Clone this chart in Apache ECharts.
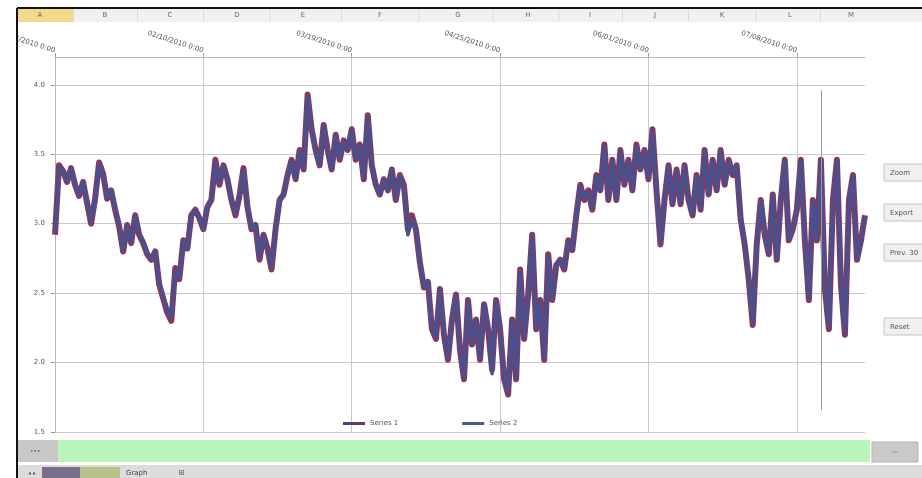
<!DOCTYPE html>
<html>
<head>
<meta charset="utf-8">
<title>Series chart</title>
<script src="https://cdn.jsdelivr.net/npm/echarts@6/dist/echarts.min.js"></script>
<style>
  html, body { margin: 0; padding: 0; background: #ffffff; }
  #chart { width: 922px; height: 478px; }
</style>
</head>
<body>
<div id="chart"></div>
<script>
// Daily readings, one value per day
const series1 = [
  2.92, 3.42, 3.38, 3.30, 3.40, 3.28, 3.20, 3.30, 3.15, 3.00,
  3.18, 3.44, 3.36, 3.18, 3.24, 3.10, 2.98, 2.80, 2.99, 2.86,
  3.06, 2.92, 2.86, 2.78, 2.74, 2.80, 2.56, 2.46, 2.36, 2.30,
  2.68, 2.60, 2.88, 2.82, 3.06, 3.10, 3.04, 2.96, 3.12, 3.17,
  3.46, 3.28, 3.42, 3.32, 3.17, 3.06, 3.20, 3.40, 3.12, 2.96,
  2.99, 2.74, 2.92, 2.82, 2.67, 2.96, 3.17, 3.21, 3.35, 3.46,
  3.32, 3.53, 3.39, 3.93, 3.68, 3.53, 3.42, 3.71, 3.53, 3.39,
  3.64, 3.46, 3.60, 3.53, 3.68, 3.46, 3.57, 3.32, 3.78, 3.42,
  3.28, 3.21, 3.32, 3.24, 3.39, 3.17, 3.35, 3.28, 2.96, 3.06,
  2.96, 2.72, 2.54, 2.58, 2.24, 2.17, 2.53, 2.20, 2.02, 2.31,
  2.49, 2.09, 1.88, 2.45, 2.13, 2.31, 2.02, 2.42, 2.24, 1.95,
  2.45, 2.24, 1.88, 1.77, 2.31, 1.88, 2.67, 2.17, 2.49, 2.92,
  2.24, 2.45, 2.02, 2.78, 2.45, 2.70, 2.74, 2.67, 2.88, 2.81,
  3.06, 3.28, 3.17, 3.24, 3.10, 3.35, 3.24, 3.57, 3.17, 3.46,
  3.17, 3.53, 3.28, 3.46, 3.24, 3.57, 3.39, 3.53, 3.32, 3.68,
  3.24, 2.85, 3.17, 3.42, 3.14, 3.39, 3.14, 3.42, 3.17, 3.06,
  3.35, 3.10, 3.53, 3.21, 3.46, 3.24, 3.53, 3.28, 3.46, 3.35,
  3.42, 3.03, 2.85, 2.60, 2.27, 2.85, 3.17, 2.92, 2.78, 3.21,
  2.74, 3.17, 3.46, 2.88, 2.96, 3.10, 3.46, 2.88, 2.45, 3.17,
  2.88, 3.46, 2.53, 2.24, 3.17, 3.46, 2.56, 2.20, 3.17, 3.35,
  2.74, 2.88, 3.06
];

const series2 = [
  2.94, 3.40, 3.38, 3.31, 3.39, 3.28, 3.21, 3.29, 3.15, 3.02,
  3.18, 3.42, 3.36, 3.19, 3.24, 3.12, 2.98, 2.82, 2.98, 2.87,
  3.05, 2.93, 2.87, 2.79, 2.75, 2.80, 2.58, 2.48, 2.38, 2.33,
  2.66, 2.61, 2.87, 2.82, 3.05, 3.09, 3.04, 2.97, 3.11, 3.17,
  3.44, 3.29, 3.41, 3.32, 3.18, 3.07, 3.20, 3.38, 3.13, 2.97,
  2.99, 2.76, 2.91, 2.82, 2.69, 2.95, 3.16, 3.21, 3.34, 3.45,
  3.33, 3.52, 3.40, 3.91, 3.68, 3.53, 3.43, 3.70, 3.53, 3.40,
  3.63, 3.47, 3.59, 3.53, 3.67, 3.47, 3.56, 3.33, 3.76, 3.43,
  3.29, 3.21, 3.32, 3.24, 3.38, 3.18, 3.34, 3.24, 2.92, 3.02,
  2.97, 2.73, 2.55, 2.59, 2.26, 2.19, 2.52, 2.22, 2.04, 2.31,
  2.48, 2.10, 1.90, 2.44, 2.14, 2.31, 2.04, 2.41, 2.24, 1.92,
  2.44, 2.24, 1.90, 1.79, 2.30, 1.90, 2.65, 2.18, 2.48, 2.90,
  2.25, 2.44, 2.04, 2.76, 2.46, 2.69, 2.74, 2.68, 2.87, 2.82,
  3.06, 3.27, 3.18, 3.23, 3.11, 3.34, 3.24, 3.56, 3.18, 3.45,
  3.18, 3.52, 3.29, 3.45, 3.25, 3.56, 3.39, 3.52, 3.33, 3.66,
  3.25, 2.87, 3.17, 3.41, 3.15, 3.38, 3.15, 3.41, 3.17, 3.07,
  3.34, 3.11, 3.52, 3.21, 3.45, 3.25, 3.52, 3.29, 3.45, 3.35,
  3.41, 3.04, 2.86, 2.62, 2.29, 2.84, 3.16, 2.92, 2.79, 3.20,
  2.75, 3.17, 3.45, 2.89, 2.96, 3.10, 3.45, 2.89, 2.47, 3.16,
  2.89, 3.45, 2.55, 2.26, 3.16, 3.45, 2.58, 2.22, 3.16, 3.34,
  2.75, 2.88, 3.05
];

// Category labels: consecutive days starting 4 Jan 2010
const startDay = Date.UTC(2010, 0, 4);
const pad2 = n => (n < 10 ? '0' : '') + n;
const dates = series1.map((_, i) => {
  const d = new Date(startDay + i * 86400000);
  return pad2(d.getUTCMonth() + 1) + '/' + pad2(d.getUTCDate()) + '/' + d.getUTCFullYear() + ' 0:00';
});

const seriesNames = ['Series 1', 'Series 2'];
const yTicks = { min: 1.5, max: 4.2, step: 0.5 };
const spikeIndex = 191;
const spikeRange = [3.96, 1.66];

const columnLetters = ['A', 'B', 'C', 'D', 'E', 'F', 'G', 'H', 'I', 'J', 'K', 'L', 'M'];
const columnCentres = [40, 105, 170, 237, 303, 380, 458, 528, 590, 655, 722, 790, 851];
const buttonLabels = ['Zoom', 'Export', 'Prev. 30', 'Reset'];
const buttonTops = [164, 204, 244, 318];

const graphics = [];
// sheet column header strip
graphics.push({ type: 'rect', shape: { x: 18, y: 9, width: 904, height: 13 }, style: { fill: '#eef0f2' }, z: 0 });
graphics.push({ type: 'rect', shape: { x: 18, y: 9, width: 56, height: 13 }, style: { fill: '#f3d98a' }, z: 1 });
columnLetters.forEach((c, i) => {
  graphics.push({ type: 'text', x: columnCentres[i], y: 15, style: { text: c, fill: '#6a6a6a', font: '7px "DejaVu Sans"', align: 'center', verticalAlign: 'middle' }, z: 2 });
  if (i > 0) {
    const sep = (columnCentres[i - 1] + columnCentres[i]) / 2;
    graphics.push({ type: 'line', shape: { x1: sep, y1: 10, x2: sep, y2: 21 }, style: { stroke: '#d8dadd', lineWidth: 1 }, z: 1 });
  }
});
// window frame, with a white margin that clips anything left of it
graphics.push({ type: 'rect', shape: { x: 0, y: 0, width: 17, height: 478 }, style: { fill: '#ffffff' }, z: 100 });
graphics.push({ type: 'line', shape: { x1: 17, y1: 8, x2: 922, y2: 8 }, style: { stroke: '#111111', lineWidth: 2 }, z: 101 });
graphics.push({ type: 'line', shape: { x1: 17, y1: 8, x2: 17, y2: 478 }, style: { stroke: '#111111', lineWidth: 2 }, z: 101 });
// side buttons
buttonLabels.forEach((b, i) => {
  graphics.push({ type: 'rect', shape: { x: 884, y: buttonTops[i], width: 40, height: 17 }, style: { fill: '#f0f0f0', stroke: '#c4c4c4', lineWidth: 1 }, z: 2 });
  graphics.push({ type: 'text', x: 890, y: buttonTops[i] + 9, style: { text: b, fill: '#555555', font: '7px "DejaVu Sans"', verticalAlign: 'middle' }, z: 3 });
});
// green status bar
graphics.push({ type: 'rect', shape: { x: 18, y: 440, width: 40, height: 22 }, style: { fill: '#c8c8c8' }, z: 1 });
graphics.push({ type: 'text', x: 30, y: 451, style: { text: '•••', fill: '#666666', font: '6px "DejaVu Sans"', verticalAlign: 'middle' }, z: 2 });
graphics.push({ type: 'rect', shape: { x: 58, y: 440, width: 812, height: 22 }, style: { fill: '#baf5ba' }, z: 1 });
graphics.push({ type: 'rect', shape: { x: 872, y: 442, width: 46, height: 20 }, style: { fill: '#c9c9c9', stroke: '#b5b5b5' }, z: 1 });
graphics.push({ type: 'text', x: 895, y: 452, style: { text: '—', fill: '#777777', font: '7px "DejaVu Sans"', align: 'center', verticalAlign: 'middle' }, z: 2 });
// sheet tabs
graphics.push({ type: 'rect', shape: { x: 18, y: 465, width: 904, height: 13 }, style: { fill: '#dcdcdc' }, z: 1 });
graphics.push({ type: 'rect', shape: { x: 42, y: 467, width: 38, height: 11 }, style: { fill: '#7a6d8c' }, z: 2 });
graphics.push({ type: 'rect', shape: { x: 80, y: 467, width: 40, height: 11 }, style: { fill: '#b9c28c' }, z: 2 });
graphics.push({ type: 'text', x: 126, y: 473, style: { text: 'Graph', fill: '#444444', font: '7px "DejaVu Sans"', verticalAlign: 'middle' }, z: 3 });
graphics.push({ type: 'text', x: 178, y: 473, style: { text: '⊞', fill: '#666666', font: '8px "DejaVu Sans"', verticalAlign: 'middle' }, z: 3 });
graphics.push({ type: 'text', x: 28, y: 473, style: { text: '◂ ▸', fill: '#666666', font: '6px "DejaVu Sans"', verticalAlign: 'middle' }, z: 3 });

const chart = echarts.init(document.getElementById('chart'));
chart.setOption({
  animation: false,
  backgroundColor: '#ffffff',
  textStyle: { fontFamily: 'DejaVu Sans' },
  graphic: { elements: graphics, z: 50 },
  grid: { left: 55, right: 57, top: 57, bottom: 46, containLabel: false, outerBoundsMode: 'none' },
  legend: {
    data: [
      { name: seriesNames[0], icon: 'rect', itemStyle: { color: '#5a3f72' } },
      { name: seriesNames[1], icon: 'rect', itemStyle: { color: '#4a5696' } }
    ],
    bottom: 46,
    left: 338,
    itemGap: 64,
    itemWidth: 22,
    itemHeight: 3,
    textStyle: { fontSize: 7, color: '#555555' }
  },
  xAxis: {
    type: 'category',
    position: 'top',
    boundaryGap: false,
    data: dates,
    axisLine: { show: true, lineStyle: { color: '#b8b8b8', width: 1 } },
    axisTick: { show: true, interval: 36, length: 4, lineStyle: { color: '#999999' } },
    axisLabel: { interval: 36, rotate: 18, fontSize: 7, color: '#555555', margin: 6 },
    splitLine: { show: true, interval: 36, lineStyle: { color: '#c9c9c9', width: 1 } }
  },
  yAxis: {
    type: 'value',
    min: yTicks.min,
    max: yTicks.max,
    interval: yTicks.step,
    axisLine: { show: true, lineStyle: { color: '#b8b8b8' } },
    axisTick: { show: true, length: 4, lineStyle: { color: '#999999' } },
    axisLabel: { fontSize: 7, color: '#555555', margin: 10, showMaxLabel: false, formatter: v => v.toFixed(1) },
    splitLine: { show: true, lineStyle: { color: '#c9c9c9', width: 1 } }
  },
  series: [
    {
      name: seriesNames[0],
      type: 'line',
      data: series1,
      symbol: 'none',
      lineStyle: { color: '#833a62', width: 6, join: 'round' },
      itemStyle: { color: '#833a62' },
      z: 2
    },
    {
      name: seriesNames[1],
      type: 'line',
      data: series2,
      symbol: 'none',
      lineStyle: { color: '#48508e', width: 3.5, join: 'round' },
      itemStyle: { color: '#48508e' },
      z: 3,
      markLine: {
        silent: true,
        symbol: 'none',
        label: { show: false },
        lineStyle: { color: '#9a9a9a', width: 1, type: 'solid' },
        data: [[
          { coord: [spikeIndex, spikeRange[0]] },
          { coord: [spikeIndex, spikeRange[1]] }
        ]]
      }
    }
  ]
});
</script>
</body>
</html>
